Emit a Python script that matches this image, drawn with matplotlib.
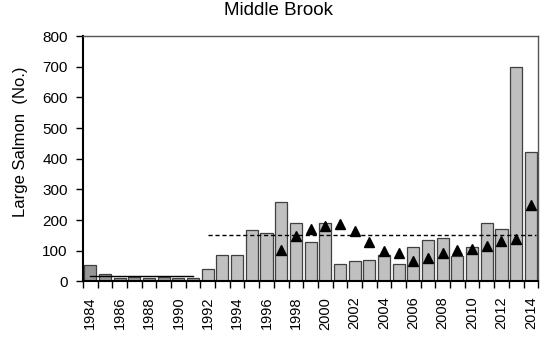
import numpy as np
import matplotlib
matplotlib.use("Agg")
import matplotlib.pyplot as plt
from matplotlib.ticker import FixedLocator

plt.rcParams["font.family"] = ["Liberation Sans", "DejaVu Sans"]

years = list(range(1984, 2015))
counts = [55, 24, 11, 15, 11, 15, 11, 11,
          40, 86, 86, 166, 158, 259, 192, 129, 189, 57, 65, 70, 86, 57,
          111, 136, 141, 82, 111, 192, 170, 698, 421]
tri_years = list(range(1997, 2015))
tri_values = [104, 147, 172, 182, 186, 164, 127, 100, 94, 68, 75, 94,
              104, 105, 114, 131, 139, 249]
early_mean = 19
late_mean = 150
split_year = 1992

fig = plt.figure(figsize=(5.42, 3.37), dpi=100)
ax = fig.add_axes([0.153, 0.165, 0.840, 0.728])

colors = ["#969696" if y < split_year else "#c0c0c0" for y in years]
ax.bar(years, counts, width=0.82, color=colors, edgecolor="#404040", linewidth=0.9, zorder=2)

ax.plot(tri_years, tri_values, linestyle="none", marker="^", markersize=7.5,
        color="black", zorder=4)

ax.plot([1984, 1991], [early_mean, early_mean], color="black", linewidth=1.0, zorder=3)
ax.plot([split_year, 2014.35], [late_mean, late_mean], color="black", linewidth=1.0,
        linestyle=(0, (3, 2)), zorder=3)

ax.set_xlim(1983.5, 2014.5)
ax.set_ylim(0, 800)
ax.set_yticks(range(0, 801, 100))
ax.set_xticks(range(1984, 2015, 2))
ax.set_xticklabels([str(y) for y in range(1984, 2015, 2)], rotation=90)
ax.xaxis.set_minor_locator(FixedLocator(np.arange(1983.5, 2015, 1.0)))
ax.tick_params(axis="x", which="major", length=0, pad=11, labelsize=10.5)
ax.tick_params(axis="x", which="minor", length=5, width=1.0, direction="out")
ax.tick_params(axis="y", length=5, width=1.0, direction="out", labelsize=11, pad=6)

for side in ["left", "bottom"]:
    ax.spines[side].set_linewidth(1.5)
    ax.spines[side].set_color("black")
for side in ["top", "right"]:
    ax.spines[side].set_linewidth(1.0)
    ax.spines[side].set_color("#555555")

fig.text(0.037, 0.579, "Large Salmon  (No.)", rotation=90, fontsize=12,
         ha="center", va="center")
fig.text(0.513, 0.969, "Middle Brook", fontsize=13.5, ha="center", va="center")

fig.savefig("out.png", dpi=100)
